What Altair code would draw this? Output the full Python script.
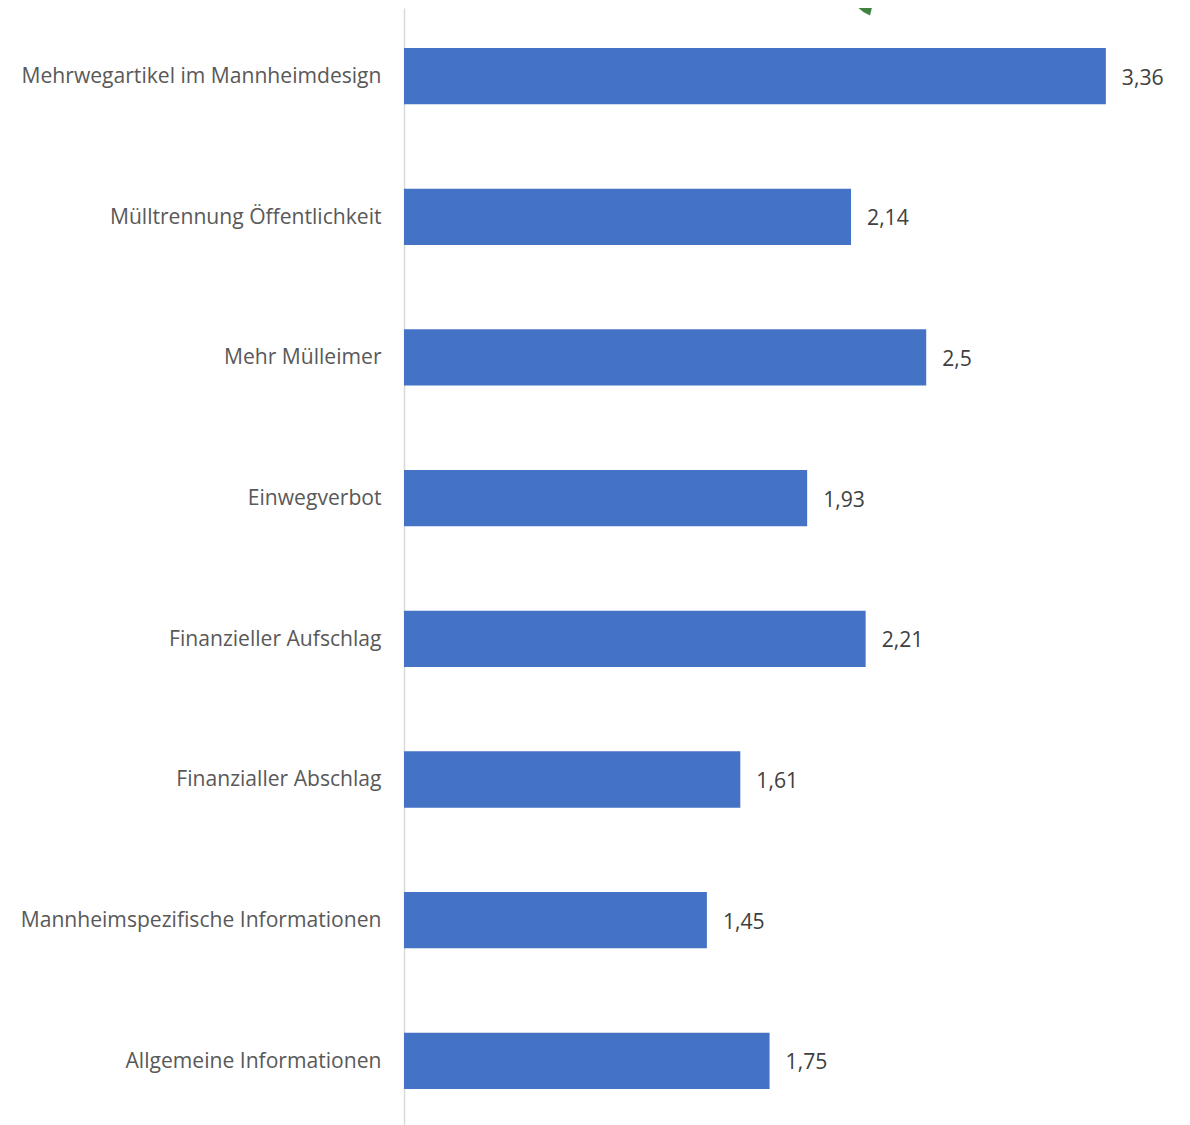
import altair as alt
import pandas as pd

cats = ["Mehrwegartikel im Mannheimdesign", "Mülltrennung Öffentlichkeit", "Mehr Mülleimer", "Einwegverbot",
        "Finanzieller Aufschlag", "Finanzialler Abschlag", "Mannheimspezifische Informationen", "Allgemeine Informationen"]
vals = [3.36, 2.14, 2.5, 1.93, 2.21, 1.61, 1.45, 1.75]
labels = ["3,36", "2,14", "2,5", "1,93", "2,21", "1,61", "1,45", "1,75"]
df = pd.DataFrame({"c": cats, "v": vals, "l": labels})

FONT = "Open Sans"
x = alt.X("v:Q", scale=alt.Scale(domain=[0, 3.6], nice=False), axis=None)
y = alt.Y("c:N", sort=cats, scale=alt.Scale(paddingInner=0.6, paddingOuter=0.27, align=0.526),
          axis=alt.Axis(title=None, labelFont=FONT, labelFontSize=21.1, labelColor="#595959", labelOffset=1,
                        ticks=False, domainColor="#D9D9D9", domainWidth=1.5, labelPadding=23, labelLimit=400))
bars = alt.Chart(df).mark_bar(color="#4472C4").encode(x=x, y=y)
text = alt.Chart(df).mark_text(align="left", dx=16, dy=2.5, font=FONT, fontSize=21.2, color="#404040").encode(
    x=x, y=y, text="l:N")
# Fragment of a green decoration cut off by the top edge of the reference
wedge = alt.Chart(pd.DataFrame({"a": [0]})).mark_point(
    shape="M0,0 Q-1.5,-0.6 -2.4,-1.6 L0.4,-1.6 Z", filled=True, size=100, opacity=1,
    color="#3E8440", strokeWidth=0, clip=False
).encode(x=alt.value(466), y=alt.value(7.5))
chart = (bars + text + wedge).properties(
    width=752, height=1117,
    autosize=alt.AutoSizeParams(type="none"),
    padding={"left": 396, "top": 0, "right": 20, "bottom": 0},
).configure_view(stroke=None)
chart.save("out.html", embed_options={"renderer": "svg", "actions": False})
